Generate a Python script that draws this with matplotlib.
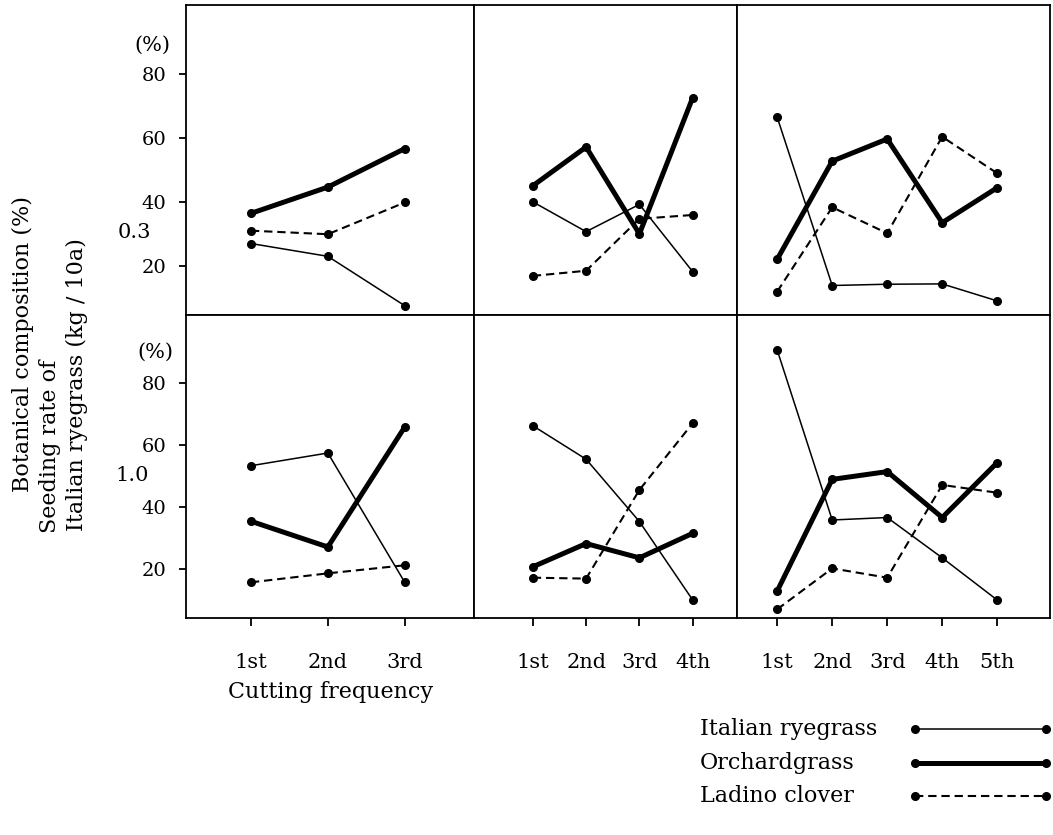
import matplotlib
matplotlib.use("Agg")
import matplotlib.pyplot as plt

# cutting frequency labels for the 3 harvest schedules
cuts_3 = ["1st", "2nd", "3rd"]
cuts_4 = ["1st", "2nd", "3rd", "4th"]
cuts_5 = ["1st", "2nd", "3rd", "4th", "5th"]

# seeding rate 0.3 kg/10a
italian_03_3 = [27.0, 23.0, 7.6]
orchard_03_3 = [36.4, 44.6, 56.6]
ladino_03_3 = [31.0, 29.9, 39.8]

italian_03_4 = [40.0, 30.7, 39.2, 18.2]
orchard_03_4 = [45.0, 57.1, 30.0, 72.5]
ladino_03_4 = [16.9, 18.5, 34.7, 35.9]

italian_03_5 = [66.4, 13.9, 14.3, 14.4, 9.1]
orchard_03_5 = [22.1, 52.7, 59.6, 33.5, 44.4]
ladino_03_5 = [12.0, 38.3, 30.2, 60.3, 48.9]

# seeding rate 1.0 kg/10a
italian_10_3 = [53.2, 57.3, 15.6]
orchard_10_3 = [35.3, 27.0, 65.7]
ladino_10_3 = [15.6, 18.5, 21.1]

italian_10_4 = [66.1, 55.3, 35.2, 9.9]
orchard_10_4 = [20.6, 28.1, 23.5, 31.4]
ladino_10_4 = [17.1, 16.8, 45.4, 66.9]

italian_10_5 = [90.5, 35.7, 36.5, 23.5, 9.9]
orchard_10_5 = [12.8, 48.8, 51.3, 36.5, 54.2]
ladino_10_5 = [6.9, 20.1, 17.1, 47.0, 44.5]

rates = ["0.3", "1.0"]
species = ["Italian ryegrass", "Orchardgrass", "Ladino clover"]
yticks = [20, 40, 60, 80]

plt.rcParams["font.family"] = ["DejaVu Serif"]
plt.rcParams["lines.scale_dashes"] = False

W, H = 1053, 835
fig = plt.figure(figsize=(W / 100, H / 100), dpi=100)

# panel edges in pixels
xedges = [186, 474, 737, 1050]
yedges = [5, 315, 618]
xlims = [(0.156, 3.9), (-0.103, 4.831), (0.269, 5.96)]
ylims = [(4.7, 101.4), (4.1, 101.8)]

data = [
    [(cuts_3, italian_03_3, orchard_03_3, ladino_03_3),
     (cuts_4, italian_03_4, orchard_03_4, ladino_03_4),
     (cuts_5, italian_03_5, orchard_03_5, ladino_03_5)],
    [(cuts_3, italian_10_3, orchard_10_3, ladino_10_3),
     (cuts_4, italian_10_4, orchard_10_4, ladino_10_4),
     (cuts_5, italian_10_5, orchard_10_5, ladino_10_5)],
]

styles = [
    dict(lw=1.1, ls="-"),
    dict(lw=3.6, ls="-"),
    dict(lw=1.5, ls=(0, (6, 3.5))),
]

handles = None
for r in range(2):
    for c in range(3):
        left = xedges[c] / W
        width = (xedges[c + 1] - xedges[c]) / W
        bottom = 1 - yedges[r + 1] / H
        height = (yedges[r + 1] - yedges[r]) / H
        ax = fig.add_axes([left, bottom, width, height])
        cuts, it, og, lc = data[r][c]
        xs = list(range(1, len(cuts) + 1))
        lines = []
        for vals, st in zip((it, og, lc), styles):
            ln, = ax.plot(xs, vals, color="black", marker="o", ms=5.5,
                          solid_capstyle="butt", **st)
            lines.append(ln)
        if handles is None:
            handles = lines
        ax.set_xlim(*xlims[c])
        ax.set_ylim(*ylims[r])
        for sp in ax.spines.values():
            sp.set_linewidth(1.3)
        if r == 1:
            ax.set_xticks(xs)
            ax.set_xticklabels(cuts, fontsize=15)
            ax.tick_params(axis="x", direction="out", length=6, width=1.3, pad=19)
        else:
            ax.set_xticks([])
        if c == 0:
            ax.set_yticks(yticks)
            ax.set_yticklabels([str(v) for v in yticks], fontsize=14)
            ax.tick_params(axis="y", direction="out", length=5, width=1.3, pad=9)
        else:
            ax.set_yticks([])

# unit marks and seeding rate labels
fig.text(152 / W, 1 - 45 / H, "(%)", fontsize=15, ha="center", va="center")
fig.text(155 / W, 1 - 352 / H, "(%)", fontsize=15, ha="center", va="center")
fig.text(134 / W, 1 - 232 / H, rates[0], fontsize=15, ha="center", va="center")
fig.text(132 / W, 1 - 475 / H, rates[1], fontsize=15, ha="center", va="center")

# y labels
fig.text(23 / W, 1 - 492 / H, "Botanical composition (%)", fontsize=16,
         rotation=90, ha="center", va="bottom")
fig.text(50 / W, 1 - 533 / H, "Seeding rate of", fontsize=16,
         rotation=90, ha="center", va="bottom")
fig.text(77 / W, 1 - 531 / H, "Italian ryegrass (kg / 10a)", fontsize=16,
         rotation=90, ha="center", va="bottom")

fig.text(228 / W, 1 - 692 / H, "Cutting frequency", fontsize=16,
         ha="left", va="center")

# legend: keys on the right, names left-aligned in their own column
leg = fig.legend(handles, ["", "", ""], loc="upper right",
                 bbox_to_anchor=(1.0, 1 - 720 / H), frameon=False,
                 markerfirst=False, numpoints=2, fontsize=16,
                 handlelength=6.5, handletextpad=0, labelspacing=0.52,
                 borderpad=0, borderaxespad=0)
fig.canvas.draw()
renderer = fig.canvas.get_renderer()
for h, name in zip(leg.legend_handles, species):
    bb = h.get_window_extent(renderer)
    yc = (bb.y0 + bb.y1) / 2
    fig.text(700 / W, yc / H, name, fontsize=16, ha="left", va="center")

fig.savefig("out.png", dpi=100, facecolor="white")
